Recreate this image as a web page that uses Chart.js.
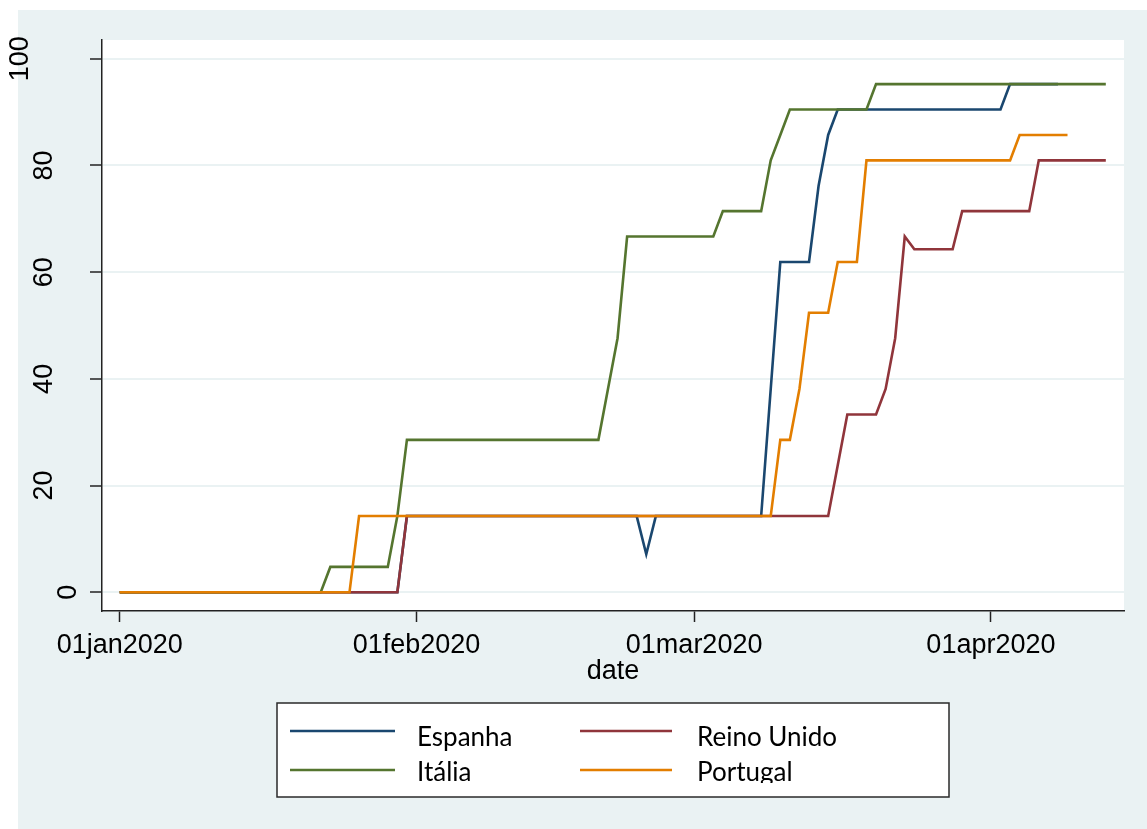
<!DOCTYPE html>
<html>
<head>
<meta charset="utf-8">
<script src="https://cdn.jsdelivr.net/npm/chart.js@4.4.1/dist/chart.umd.min.js"></script>
<style>
  html, body { margin: 0; padding: 0; background: #ffffff; }
  canvas { display: block; }
</style>
</head>
<body>
<canvas id="chart" width="1147" height="829"></canvas>
<script>
// Daily stringency index, one value per day starting 01jan2020 (day 0).
const espanha = [
  0, 0, 0, 0, 0, 0, 0, 0, 0, 0,
  0, 0, 0, 0, 0, 0, 0, 0, 0, 0,
  0, 0, 0, 0, 0, 0, 0, 0, 0, 0,
  14.29, 14.29, 14.29, 14.29, 14.29, 14.29, 14.29, 14.29, 14.29, 14.29,
  14.29, 14.29, 14.29, 14.29, 14.29, 14.29, 14.29, 14.29, 14.29, 14.29,
  14.29, 14.29, 14.29, 14.29, 14.29, 7.14, 14.29, 14.29, 14.29, 14.29,
  14.29, 14.29, 14.29, 14.29, 14.29, 14.29, 14.29, 14.29, 38.10, 61.90,
  61.90, 61.90, 61.90, 76.19, 85.71, 90.48, 90.48, 90.48, 90.48, 90.48,
  90.48, 90.48, 90.48, 90.48, 90.48, 90.48, 90.48, 90.48, 90.48, 90.48,
  90.48, 90.48, 90.48, 95.24, 95.24, 95.24, 95.24, 95.24, 95.24
];
const reinoUnido = [
  0, 0, 0, 0, 0, 0, 0, 0, 0, 0,
  0, 0, 0, 0, 0, 0, 0, 0, 0, 0,
  0, 0, 0, 0, 0, 0, 0, 0, 0, 0,
  14.29, 14.29, 14.29, 14.29, 14.29, 14.29, 14.29, 14.29, 14.29, 14.29,
  14.29, 14.29, 14.29, 14.29, 14.29, 14.29, 14.29, 14.29, 14.29, 14.29,
  14.29, 14.29, 14.29, 14.29, 14.29, 14.29, 14.29, 14.29, 14.29, 14.29,
  14.29, 14.29, 14.29, 14.29, 14.29, 14.29, 14.29, 14.29, 14.29, 14.29,
  14.29, 14.29, 14.29, 14.29, 14.29, 23.81, 33.33, 33.33, 33.33, 33.33,
  38.10, 47.62, 66.67, 64.29, 64.29, 64.29, 64.29, 64.29, 71.43, 71.43,
  71.43, 71.43, 71.43, 71.43, 71.43, 71.43, 80.95, 80.95, 80.95, 80.95,
  80.95, 80.95, 80.95, 80.95
];
const italia = [
  0, 0, 0, 0, 0, 0, 0, 0, 0, 0,
  0, 0, 0, 0, 0, 0, 0, 0, 0, 0,
  0, 0, 4.76, 4.76, 4.76, 4.76, 4.76, 4.76, 4.76, 14.29,
  28.57, 28.57, 28.57, 28.57, 28.57, 28.57, 28.57, 28.57, 28.57, 28.57,
  28.57, 28.57, 28.57, 28.57, 28.57, 28.57, 28.57, 28.57, 28.57, 28.57,
  28.57, 38.10, 47.62, 66.67, 66.67, 66.67, 66.67, 66.67, 66.67, 66.67,
  66.67, 66.67, 66.67, 71.43, 71.43, 71.43, 71.43, 71.43, 80.95, 85.71,
  90.48, 90.48, 90.48, 90.48, 90.48, 90.48, 90.48, 90.48, 90.48, 95.24,
  95.24, 95.24, 95.24, 95.24, 95.24, 95.24, 95.24, 95.24, 95.24, 95.24,
  95.24, 95.24, 95.24, 95.24, 95.24, 95.24, 95.24, 95.24, 95.24, 95.24,
  95.24, 95.24, 95.24, 95.24
];
const portugal = [
  0, 0, 0, 0, 0, 0, 0, 0, 0, 0,
  0, 0, 0, 0, 0, 0, 0, 0, 0, 0,
  0, 0, 0, 0, 0, 14.29, 14.29, 14.29, 14.29, 14.29,
  14.29, 14.29, 14.29, 14.29, 14.29, 14.29, 14.29, 14.29, 14.29, 14.29,
  14.29, 14.29, 14.29, 14.29, 14.29, 14.29, 14.29, 14.29, 14.29, 14.29,
  14.29, 14.29, 14.29, 14.29, 14.29, 14.29, 14.29, 14.29, 14.29, 14.29,
  14.29, 14.29, 14.29, 14.29, 14.29, 14.29, 14.29, 14.29, 14.29, 28.57,
  28.57, 38.10, 52.38, 52.38, 52.38, 61.90, 61.90, 61.90, 80.95, 80.95,
  80.95, 80.95, 80.95, 80.95, 80.95, 80.95, 80.95, 80.95, 80.95, 80.95,
  80.95, 80.95, 80.95, 80.95, 85.71, 85.71, 85.71, 85.71, 85.71, 85.71
];

const seriesNames = ['Espanha', 'Reino Unido', 'Itália', 'Portugal'];
const seriesColors = ['#1A476F', '#90353B', '#55752F', '#E37E00'];

// x axis: days since 01jan2020
const xTickDays = [0, 31, 60, 91];
const xTickLabels = ['01jan2020', '01feb2020', '01mar2020', '01apr2020'];
const yTickValues = [0, 20, 40, 60, 80, 100];

const AXIS_FAMILY = "'Liberation Sans', Arial, sans-serif";
const AXIS_FONT = { family: AXIS_FAMILY, size: 27 };
const LEGEND_FONT = "26px Lato, 'Open Sans', sans-serif";

function toPoints(values) {
  return values.map((v, day) => ({ x: day, y: v }));
}

// Stata-like panels: bluish-gray graph region, white plot region
const panels = {
  id: 'panels',
  beforeDraw(chart) {
    const { ctx, chartArea: a } = chart;
    ctx.save();
    ctx.fillStyle = '#ffffff';
    ctx.fillRect(0, 0, chart.width, chart.height);
    ctx.fillStyle = '#EAF2F3';
    ctx.fillRect(18, 10, chart.width - 18, chart.height - 10);
    ctx.fillStyle = '#ffffff';
    ctx.fillRect(a.left, a.top, a.right - a.left, a.bottom - a.top);
    ctx.restore();
  }
};

// Vertical y-axis labels, reading bottom to top; shorter labels sit nearer the axis
const verticalYLabels = {
  id: 'verticalYLabels',
  afterDraw(chart) {
    const { ctx } = chart;
    const scale = chart.scales.y;
    ctx.save();
    ctx.font = `${AXIS_FONT.size}px ${AXIS_FAMILY}`;
    ctx.fillStyle = '#000000';
    ctx.textAlign = 'center';
    ctx.textBaseline = 'middle';
    const w0 = ctx.measureText('0').width;
    yTickValues.forEach(v => {
      const label = String(v);
      const w = ctx.measureText(label).width;
      const cx = 69 - 1.62 * (w - w0);
      const cy = scale.getPixelForValue(v);
      ctx.save();
      ctx.translate(cx, cy);
      ctx.rotate(-Math.PI / 2);
      ctx.fillText(label, 0, 0);
      ctx.restore();
    });
    ctx.restore();
  }
};

// Two-column boxed legend below the axis title
const boxLegend = {
  id: 'boxLegend',
  afterDraw(chart) {
    const { ctx } = chart;
    const box = { x: 277, y: 703, w: 672, h: 94 };
    const cols = [{ key0: 290, key1: 395, text: 417 }, { key0: 580, key1: 672, text: 697 }];
    const rows = [{ key: 731, text: 746 }, { key: 770, text: 781 }];
    ctx.save();
    ctx.fillStyle = '#ffffff';
    ctx.fillRect(box.x, box.y, box.w, box.h);
    ctx.strokeStyle = '#2a2a2a';
    ctx.lineWidth = 1.5;
    ctx.strokeRect(box.x, box.y, box.w, box.h);
    ctx.beginPath();
    ctx.rect(box.x, box.y, box.w, 783 - box.y);
    ctx.clip();
    chart.data.datasets.forEach((ds, i) => {
      const c = cols[i % 2];
      const r = rows[Math.floor(i / 2)];
      ctx.strokeStyle = ds.borderColor;
      ctx.lineWidth = 2.6;
      ctx.beginPath();
      ctx.moveTo(c.key0, r.key);
      ctx.lineTo(c.key1, r.key);
      ctx.stroke();
      ctx.fillStyle = '#000000';
      ctx.font = LEGEND_FONT;
      ctx.textBaseline = 'alphabetic';
      ctx.textAlign = 'left';
      ctx.fillText(ds.label, c.text, r.text);
    });
    ctx.restore();
  }
};

const drawOrder = [4, 3, 2, 1];

new Chart(document.getElementById('chart'), {
  type: 'line',
  data: {
    datasets: [espanha, reinoUnido, italia, portugal].map((vals, i) => ({
      label: seriesNames[i],
      data: toPoints(vals),
      borderColor: seriesColors[i],
      backgroundColor: seriesColors[i],
      borderWidth: 2.6,
      pointRadius: 0,
      tension: 0,
      fill: false,
      order: drawOrder[i]
    }))
  },
  options: {
    responsive: false,
    animation: false,
    devicePixelRatio: 1,
    layout: { padding: { left: 0, top: 40, right: 23, bottom: 118 } },
    plugins: { legend: { display: false }, tooltip: { enabled: false } },
    scales: {
      x: {
        type: 'linear',
        min: -1.85,
        max: 104.9,
        afterBuildTicks: s => { s.ticks = xTickDays.map(v => ({ value: v })); },
        afterFit: s => { s.height = 100; },
        ticks: {
          autoSkip: false,
          maxRotation: 0,
          minRotation: 0,
          padding: 7,
          color: '#000000',
          font: AXIS_FONT,
          callback: v => xTickLabels[xTickDays.indexOf(v)]
        },
        grid: { drawOnChartArea: false, drawTicks: true, tickLength: 11, tickColor: '#222222', tickWidth: 1.5 },
        border: { display: true, color: '#222222', width: 1.5 },
        title: { display: true, text: 'date', color: '#000000', font: AXIS_FONT, padding: { top: 0, bottom: 23 } }
      },
      y: {
        type: 'linear',
        min: -3.5,
        max: 103.5,
        afterBuildTicks: s => { s.ticks = yTickValues.map(v => ({ value: v })); },
        afterFit: s => { s.width = 102; },
        ticks: { display: false },
        grid: { color: '#EAF2F3', lineWidth: 2, tickColor: '#222222', tickWidth: 1.5, tickLength: 12 },
        border: { display: true, color: '#222222', width: 1.5 }
      }
    }
  },
  plugins: [panels, verticalYLabels, boxLegend]
});
</script>
</body>
</html>
